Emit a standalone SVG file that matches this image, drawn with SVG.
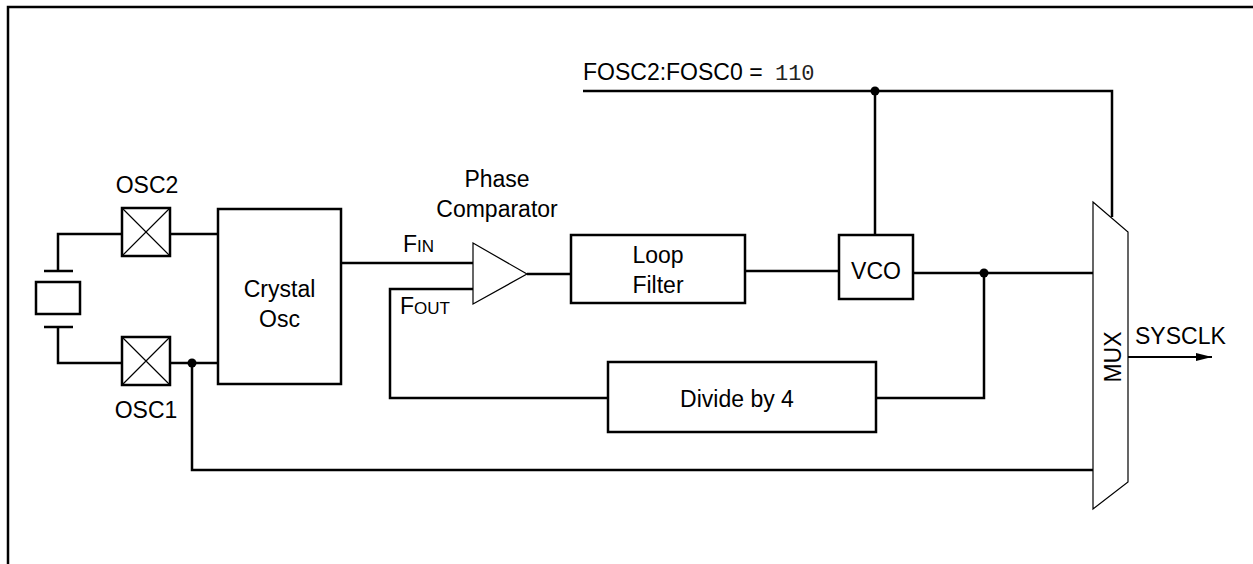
<svg xmlns="http://www.w3.org/2000/svg" width="1253" height="564" viewBox="0 0 1253 564">
<style>
text{font-family:"Liberation Sans",Arial,sans-serif;font-size:23px;fill:#000}
.mono{font-family:"Liberation Mono","Courier New",monospace;font-size:22px;fill:#222}
.c{text-anchor:middle}
.box{fill:#fff;stroke:#000;stroke-width:2.5}
.thin{fill:#fff;stroke:#000;stroke-width:1.2}
.w{fill:none;stroke:#000;stroke-width:2.5}
.x{stroke:#000;stroke-width:1.2}
.sm{font-size:17px}
</style>
<defs>
<marker id="arr" viewBox="0 0 16 10" refX="16" refY="5" markerWidth="16" markerHeight="10" markerUnits="userSpaceOnUse" orient="auto">
<path d="M0,1 L16,5 L0,9 z" fill="#000"/>
</marker>
</defs>
<rect width="1253" height="564" fill="#fff"/>
<path d="M8,564 V7 H1253" fill="none" stroke="#000" stroke-width="2.5"/>
<g id="connectors">
<path class="w" d="M122,234 H58 V271"/>
<path class="w" d="M58,327 V363 H122"/>
<path class="w" d="M170,234 H218"/>
<path class="w" d="M170,363 H218"/>
<path class="w" d="M192,363 V470 H1093"/>
<path class="w" d="M341,263 H473"/>
<path class="w" d="M527,274 H571"/>
<path class="w" d="M473,289 H390 V398 H608"/>
<path class="w" d="M745,271 H839"/>
<path class="w" d="M913,273 H1093"/>
<path class="w" d="M876,398 H984 V273"/>
<path class="w" d="M875,235 V91"/>
<path class="w" d="M583,91 H1112 V217"/>
<path d="M1128,357 H1212" stroke="#000" stroke-width="2" marker-end="url(#arr)"/>
<circle cx="192" cy="363" r="4.5"/>
<circle cx="984" cy="273" r="4.5"/>
<circle cx="875" cy="91" r="4.5"/>
</g>
<g id="crystal">
<path class="w" d="M44,271 H73 M44,327 H73"/>
<rect class="box" x="36" y="282" width="44" height="32"/>
</g>
<g id="osc2">
<rect class="box" x="122" y="208" width="48" height="48"/>
<path class="x" d="M122,208 L170,256 M170,208 L122,256"/>
<text class="c" x="147" y="193">OSC2</text>
</g>
<g id="osc1">
<rect class="box" x="122" y="337" width="48" height="48"/>
<path class="x" d="M122,337 L170,385 M170,337 L122,385"/>
<text class="c" x="146" y="418">OSC1</text>
</g>
<g id="crystal-osc">
<rect class="box" x="218" y="209" width="123" height="175"/>
<text class="c" x="279.5" y="297">Crystal</text>
<text class="c" x="279.5" y="327">Osc</text>
</g>
<g id="phase-comparator">
<polygon class="thin" points="473,243 527,274 473,304"/>
<text class="c" x="497" y="187">Phase</text>
<text class="c" x="497" y="217">Comparator</text>
<text x="403" y="252">F<tspan class="sm">IN</tspan></text>
<text x="400" y="314">F<tspan class="sm">OUT</tspan></text>
</g>
<g id="loop-filter">
<rect class="box" x="571" y="235" width="174" height="68"/>
<text class="c" x="658" y="263">Loop</text>
<text class="c" x="658" y="293">Filter</text>
</g>
<g id="vco">
<rect class="box" x="839" y="235" width="74" height="64"/>
<text class="c" x="876" y="279">VCO</text>
</g>
<g id="divide">
<rect class="box" x="608" y="362" width="268" height="70"/>
<text class="c" x="737" y="407">Divide by 4</text>
</g>
<g id="fosc-label">
<text x="583" y="80">FOSC2:FOSC0 = <tspan class="mono" dx="6">110</tspan></text>
</g>
<g id="mux">
<polygon class="thin" points="1093,202 1128,232 1128,482 1093,509"/>
<text class="c" transform="translate(1121,357) rotate(-90)">MUX</text>
</g>
<g id="sysclk">
<text x="1135" y="344">SYSCLK</text>
</g>
</svg>
